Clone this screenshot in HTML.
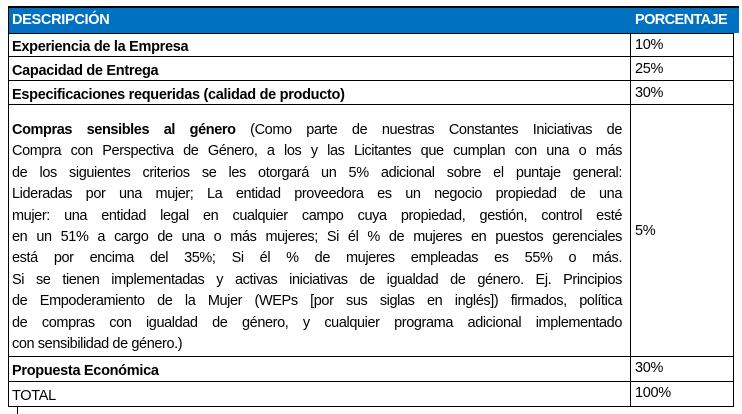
<!DOCTYPE html>
<html><head><meta charset="utf-8"><style>
body{margin:0;width:742px;height:414px;background:#fff;position:relative;overflow:hidden;font-family:"Liberation Sans",sans-serif;color:#000;}
.a{position:absolute;}
.h{background:#0070c0;}
.hl{position:absolute;background:#000;height:1px;}
.vl{position:absolute;background:#000;width:1px;}
.t{position:absolute;font-size:14.5px;white-space:nowrap;line-height:18px;letter-spacing:-0.3px;}
.b{font-weight:bold;}
.w{color:#fff;font-weight:bold;font-size:14.5px;}
.j{position:absolute;left:19px;width:603px;font-size:14.5px;letter-spacing:-0.4px;line-height:21.4px;text-align:justify;text-align-last:justify;white-space:nowrap;}
.j div{height:21.4px;overflow:visible;}
</style></head><body>
<div class="a h" style="left:8px;top:7px;width:731px;height:26px"></div>
<div class="hl" style="left:8px;top:6px;width:731px;height:2px"></div>
<div class="t w" style="left:12px;top:11px">DESCRIPCIÓN</div>
<div class="t w" style="left:635px;top:11px;letter-spacing:-0.6px">PORCENTAJE</div>
<div class="hl" style="left:8px;top:33px;width:726px"></div>
<div class="hl" style="left:8px;top:56px;width:726px"></div>
<div class="hl" style="left:8px;top:80px;width:726px"></div>
<div class="hl" style="left:8px;top:104px;width:726px"></div>
<div class="hl" style="left:8px;top:356px;width:726px"></div>
<div class="hl" style="left:8px;top:381px;width:726px"></div>
<div class="hl" style="left:8px;top:406px;width:726px"></div>
<div class="vl" style="left:8px;top:7px;height:400px"></div>
<div class="vl" style="left:630px;top:33px;height:374px"></div>
<div class="vl" style="left:733px;top:33px;height:374px"></div>
<div class="vl" style="left:17px;top:407px;height:7px"></div>
<div class="t b" style="left:12px;top:38px">Experiencia de la Empresa</div>
<div class="t" style="left:635px;top:36px">10%</div>
<div class="t b" style="left:12px;top:62px">Capacidad de Entrega</div>
<div class="t" style="left:635px;top:60px">25%</div>
<div class="t b" style="left:12px;top:86px">Especificaciones requeridas (calidad de producto)</div>
<div class="t" style="left:635px;top:84px">30%</div>
<div class="j" style="top:120px;left:12px;width:610px">
<div><b>Compras sensibles al género</b> (Como parte de nuestras Constantes Iniciativas de</div>
<div>Compra con Perspectiva de Género, a los y las Licitantes que cumplan con una o más</div>
<div>de los siguientes criterios se les otorgará un 5% adicional sobre el puntaje general:</div>
<div>Lideradas por una mujer; La entidad proveedora es un negocio propiedad de una</div>
<div>mujer: una entidad legal en cualquier campo cuya propiedad, gestión, control esté</div>
<div>en un 51% a cargo de una o más mujeres; Si él % de mujeres en puestos gerenciales</div>
<div>está por encima del 35%; Si él % de mujeres empleadas es 55% o más.</div>
<div>Si se tienen implementadas y activas iniciativas de igualdad de género. Ej. Principios</div>
<div>de Empoderamiento de la Mujer (WEPs [por sus siglas en inglés]) firmados, política</div>
<div>de compras con igualdad de género, y cualquier programa adicional implementado</div>
<div style="text-align-last:left">con sensibilidad de género.)</div>
</div>
<div class="t" style="left:635px;top:222px">5%</div>
<div class="t b" style="left:12px;top:362px">Propuesta Económica</div>
<div class="t" style="left:635px;top:359px">30%</div>
<div class="t" style="left:12px;top:387px">TOTAL</div>
<div class="t" style="left:635px;top:384px">100%</div>
</body></html>
